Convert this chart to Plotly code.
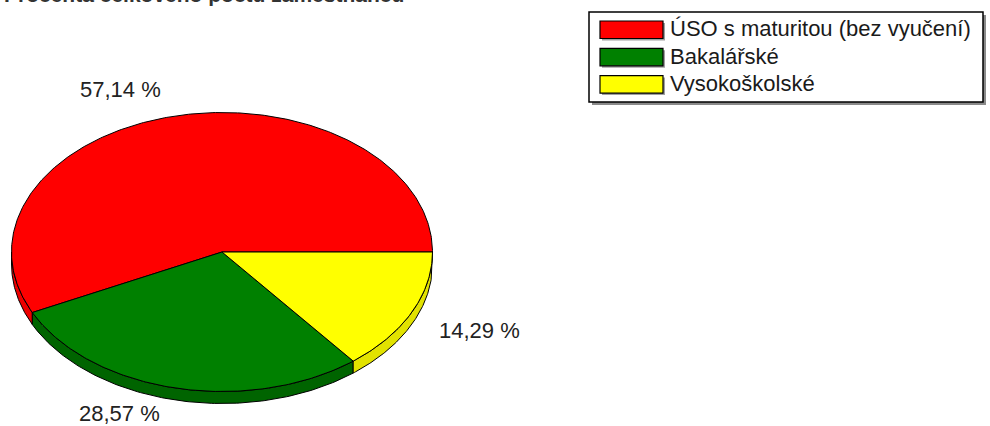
import numpy as np
import plotly.graph_objects as go

# ---- data ----
categories = ["ÚSO s maturitou (bez vyučení)", "Bakalářské", "Vysokoškolské"]
values = [57.14, 28.57, 14.29]
title_text = "Procenta celkového počtu zaměstnanců"

# ---- style ----
top_colors = ["#ff0000", "#008000", "#ffff00"]
side_colors = ["#ee0000", "#006400", "#e2e200"]
W, H = 990, 426
cx, cy, rx, ry, depth = 222.0, 252.0, 210.5, 139.5, 12.0
FONT = "Liberation Sans, Arial, sans-serif"

fig = go.Figure()


def ell(t):
    r = np.radians(t)
    return cx + rx * np.cos(r), cy - ry * np.sin(r)


total = sum(values)
starts, ends = [], []
a = 0.0
for v in values:
    starts.append(a)
    a += 360.0 * v / total
    ends.append(a)

# side walls (front half only: 180..360 deg)
for i, v in enumerate(values):
    lo, hi = max(starts[i], 180.0), min(ends[i], 360.0)
    if hi <= lo:
        continue
    t = np.linspace(lo, hi, 120)
    x, y = ell(t)
    xs = np.concatenate([x, x[::-1], x[:1]])
    ys = np.concatenate([y, y[::-1] + depth, y[:1]])
    fig.add_trace(go.Scatter(x=xs, y=ys, mode="lines", fill="toself",
                             fillcolor=side_colors[i],
                             line=dict(color="#000000", width=1),
                             hoverinfo="skip", showlegend=False))

# top faces
for i, v in enumerate(values):
    t = np.linspace(starts[i], ends[i], max(int((ends[i] - starts[i]) * 1.5), 10))
    x, y = ell(t)
    xs = np.concatenate([[cx], x, [cx]])
    ys = np.concatenate([[cy], y, [cy]])
    fig.add_trace(go.Scatter(x=xs, y=ys, mode="lines", fill="toself",
                             fillcolor=top_colors[i],
                             line=dict(color="#000000", width=1),
                             hoverinfo="skip", showlegend=False))

annotations = []
# percentage labels
for i, v in enumerate(values):
    mid = np.radians((starts[i] + ends[i]) / 2.0)
    px = cx + 1.1 * rx * np.cos(mid)
    py = cy - 1.1 * ry * np.sin(mid)
    left = np.cos(mid) >= 0
    up = np.sin(mid) > 0
    annotations.append(dict(
        x=px, y=py, xref="x", yref="y", showarrow=False,
        text=f"{v:.2f}".replace(".", ",") + " %",
        xanchor="left" if left else "right",
        yanchor="bottom" if up else "top",
        xshift=6 if left else -8,
        yshift=-2 if up else 3,
        font=dict(family=FONT, size=22, color="#222222")))

# title (cut off at the top like the reference)
annotations.append(dict(x=2, y=8, xref="x", yref="y", showarrow=False,
                        text=f"<b>{title_text}</b>", xanchor="left", yanchor="bottom",
                        font=dict(family=FONT, size=21, color="#333333")))

shapes = []
# legend box with shadow
lx0, ly0, lx1, ly1 = 589, 12, 983, 102
shapes.append(dict(type="rect", xref="x", yref="y", x0=lx0 + 3, y0=ly0 + 3,
                   x1=lx1 + 3, y1=ly1 + 3, fillcolor="#8a8a8a", line=dict(width=0),
                   layer="below"))
shapes.append(dict(type="rect", xref="x", yref="y", x0=lx0, y0=ly0, x1=lx1, y1=ly1,
                   fillcolor="#ffffff", line=dict(color="#000000", width=1.5),
                   layer="below"))
row_h = 27.3
for i, name in enumerate(categories):
    sy0 = 21 + i * row_h
    sy1 = sy0 + 17.5
    shapes.append(dict(type="rect", xref="x", yref="y", x0=602, y0=sy0 + 2,
                       x1=665, y1=sy1 + 2, fillcolor="#a0a0a0", line=dict(width=0)))
    shapes.append(dict(type="rect", xref="x", yref="y", x0=600, y0=sy0,
                       x1=663, y1=sy1, fillcolor=top_colors[i],
                       line=dict(color="#000000", width=1.2)))
    annotations.append(dict(x=668, y=(sy0 + sy1) / 2.0 - 1, xref="x", yref="y",
                            showarrow=False, text=name, xanchor="left",
                            yanchor="middle",
                            font=dict(family=FONT, size=22, color="#1a1a1a")))

fig.update_layout(
    width=W, height=H,
    margin=dict(l=0, r=0, t=0, b=0),
    paper_bgcolor="#ffffff", plot_bgcolor="#ffffff",
    xaxis=dict(range=[0, W], visible=False, fixedrange=True),
    yaxis=dict(range=[H, 0], visible=False, fixedrange=True),
    annotations=annotations, shapes=shapes, showlegend=False,
)

fig.write_html("out.html", config={"displayModeBar": False},
               post_script="document.body.style.margin='0';document.body.style.overflow='hidden';")
